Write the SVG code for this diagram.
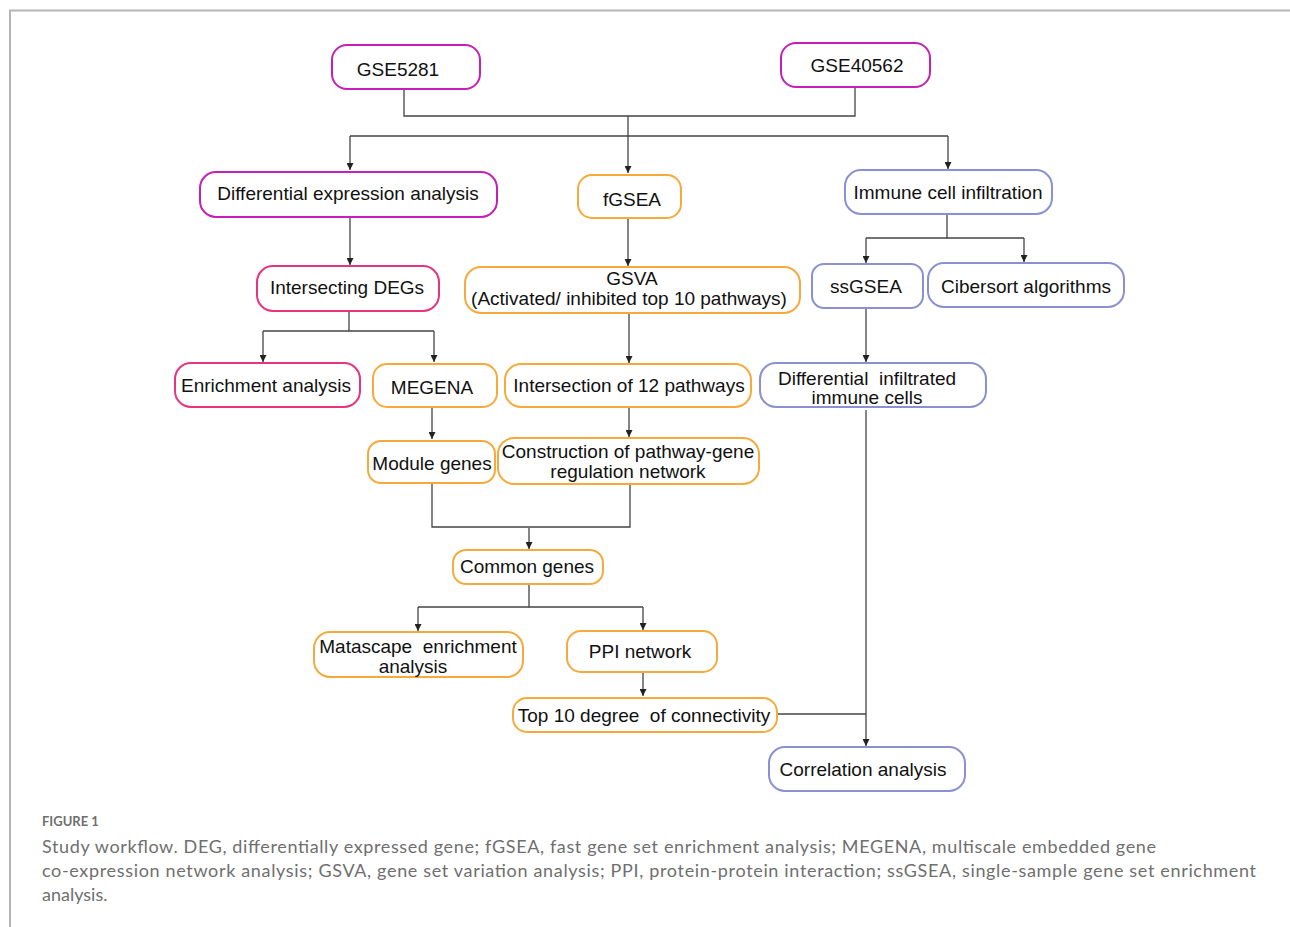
<svg xmlns="http://www.w3.org/2000/svg" width="1290" height="927" viewBox="0 0 1290 927">
<defs>
<marker id="ah" viewBox="0 0 10 10" refX="10" refY="5" markerWidth="7" markerHeight="7" markerUnits="userSpaceOnUse" orient="auto">
<path d="M0,0 L10,5 L0,10 z" fill="#222"/>
</marker>
<style>
.n rect{fill:#fff;stroke-width:2}
.mag rect{stroke:#c61fb8}
.pink rect{stroke:#e8347e}
.org rect{stroke:#f7aa3c}
.blu rect{stroke:#8b90d2}
.t{font-family:"Liberation Sans",Arial,sans-serif;font-size:19px;fill:#111;text-anchor:middle;white-space:pre}
.c{fill:none;stroke:#444;stroke-width:1.3}
.a{marker-end:url(#ah)}
.cap{font-family:Lato,"Open Sans",sans-serif;fill:#6f6f6f}
</style>
</defs>
<rect width="1290" height="927" fill="#fff"/>
<path d="M10,927 V10.5 H1290" fill="none" stroke="#b5b5b5" stroke-width="2"/>

<g id="connectors">
<path class="c" d="M404,89 V116 H855 V87"/>
<path class="c a" d="M628,116 V173"/>
<path class="c" d="M350,136 H948"/>
<path class="c a" d="M350,136 V170"/>
<path class="c a" d="M948,136 V169"/>
<path class="c a" d="M350,217 V265"/>
<path class="c" d="M349,311 V331 H434"/>
<path class="c a" d="M263,331 V362"/>
<path class="c" d="M263,331 H349"/>
<path class="c a" d="M434,331 V362"/>
<path class="c a" d="M628,218 V266"/>
<path class="c a" d="M629,313 V363"/>
<path class="c a" d="M629,407 V437"/>
<path class="c a" d="M432,407 V439"/>
<path class="c" d="M432,483 V527 H630 V484"/>
<path class="c a" d="M529,528 V549"/>
<path class="c" d="M529,584 V607 H643"/>
<path class="c" d="M418,607 H529"/>
<path class="c a" d="M418,607 V631"/>
<path class="c a" d="M643,607 V630"/>
<path class="c a" d="M643,672 V696"/>
<path class="c" d="M947,214 V238 H1024"/>
<path class="c" d="M866,238 H947"/>
<path class="c a" d="M866,238 V263"/>
<path class="c a" d="M1024,238 V262"/>
<path class="c a" d="M866,308 V362"/>
<path class="c a" d="M866,410 V746"/>
<path class="c" d="M777,714 H866"/>
</g>

<g id="gse5281" class="n mag"><rect x="332" y="45" width="148" height="44" rx="15"/><text class="t" x="398" y="76">GSE5281</text></g>
<g id="gse40562" class="n mag"><rect x="781" y="43" width="149" height="44" rx="15"/><text class="t" x="857" y="72">GSE40562</text></g>
<g id="diffexpr" class="n mag"><rect x="200" y="172" width="297" height="45" rx="16"/><text class="t" x="348" y="200">Differential expression analysis</text></g>
<g id="fgsea" class="n org"><rect x="578" y="175" width="103" height="43" rx="14"/><text class="t" x="632" y="206">fGSEA</text></g>
<g id="immune" class="n blu"><rect x="845" y="170" width="207" height="44" rx="16"/><text class="t" x="948" y="199">Immune cell infiltration</text></g>
<g id="degs" class="n pink"><rect x="257" y="266" width="182" height="45" rx="16"/><text class="t" x="347" y="294">Intersecting DEGs</text></g>
<g id="gsva" class="n org"><rect x="465" y="267" width="335" height="46" rx="16"/><text class="t" x="632" y="285">GSVA</text><text class="t" x="629" y="305">(Activated/ inhibited top 10 pathways)</text></g>
<g id="ssgsea" class="n blu"><rect x="812" y="264" width="111" height="44" rx="12"/><text class="t" x="866" y="293">ssGSEA</text></g>
<g id="cibersort" class="n blu"><rect x="928" y="263" width="196" height="44" rx="16"/><text class="t" x="1026" y="293">Cibersort algorithms</text></g>
<g id="enrich" class="n pink"><rect x="175" y="363" width="185" height="44" rx="16"/><text class="t" x="266" y="392">Enrichment analysis</text></g>
<g id="megena" class="n org"><rect x="373" y="364" width="124" height="43" rx="14"/><text class="t" x="432" y="394">MEGENA</text></g>
<g id="inter12" class="n org"><rect x="505" y="364" width="246" height="43" rx="16"/><text class="t" x="629" y="392">Intersection of 12 pathways</text></g>
<g id="diffimm" class="n blu"><rect x="760" y="363" width="226" height="44" rx="16"/><text class="t" x="867" y="385" xml:space="preserve">Differential  infiltrated</text><text class="t" x="867" y="404">immune cells</text></g>
<g id="module" class="n org"><rect x="368" y="441" width="127" height="42" rx="13"/><text class="t" x="432" y="470">Module genes</text></g>
<g id="construct" class="n org"><rect x="498" y="438" width="261" height="46" rx="16"/><text class="t" x="628" y="458">Construction of pathway-gene</text><text class="t" x="628" y="478">regulation network</text></g>
<g id="common" class="n org"><rect x="453" y="550" width="150" height="34" rx="13"/><text class="t" x="527" y="573">Common genes</text></g>
<g id="metascape" class="n org"><rect x="314" y="632" width="209" height="45" rx="16"/><text class="t" x="418" y="653" xml:space="preserve">Matascape  enrichment</text><text class="t" x="413" y="673">analysis</text></g>
<g id="ppi" class="n org"><rect x="567" y="631" width="150" height="41" rx="14"/><text class="t" x="640" y="658">PPI network</text></g>
<g id="top10" class="n org"><rect x="513" y="698" width="264" height="34" rx="14"/><text class="t" x="644" y="722" xml:space="preserve">Top 10 degree  of connectivity</text></g>
<g id="corr" class="n blu"><rect x="769" y="747" width="196" height="44" rx="16"/><text class="t" x="863" y="776">Correlation analysis</text></g>

<g id="caption">
<text class="cap" x="42" y="826" font-size="13" font-weight="bold" fill="#6a6a6a">FIGURE 1</text>
<text class="cap" x="42" y="853" font-size="18" textLength="1114" lengthAdjust="spacing">Study workflow. DEG, differentially expressed gene; fGSEA, fast gene set enrichment analysis; MEGENA, multiscale embedded gene</text>
<text class="cap" x="42" y="877" font-size="18" textLength="1214" lengthAdjust="spacing">co-expression network analysis; GSVA, gene set variation analysis; PPI, protein-protein interaction; ssGSEA, single-sample gene set enrichment</text>
<text class="cap" x="42" y="901" font-size="18">analysis.</text>
</g>
</svg>
